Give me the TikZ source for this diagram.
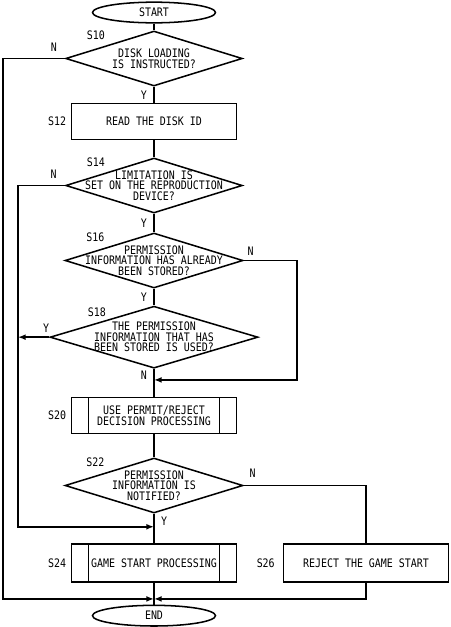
\documentclass[tikz,border=0pt]{standalone}
\usepackage{fontspec}
\newfontfamily\flowfont[FakeStretch=0.85]{DejaVu Sans Mono}
\usetikzlibrary{shapes,arrows.meta}
\usetikzlibrary{positioning}

\begin{document}
\begin{tikzpicture}[line width=1.3pt, >={Latex[length=6.5pt,width=5pt]}, node distance=2cm, on grid,
    font=\flowfont\fontsize{10}{9}\selectfont,
    terminal/.style={ellipse, draw, inner sep=0pt, minimum width=3.69cm, minimum height=0.62cm},
    process/.style={rectangle, draw, align=center, minimum width=4.95cm, minimum height=1.08cm},
    subproc/.style={process, path picture={
        \draw ([xshift=.51cm]path picture bounding box.north west) -- ([xshift=.51cm]path picture bounding box.south west)
              ([xshift=-.51cm]path picture bounding box.north east) -- ([xshift=-.51cm]path picture bounding box.south east);}},
    decision/.style={diamond, draw, inner sep=0pt, minimum width=5.3cm, minimum height=1.65cm},
    question/.style={align=center}]
    \useasboundingbox (0,0) rectangle (13.5,-18.81);

    \node[terminal] (start) at (4.62,-0.375) {START};
    \node[decision, label={[question]center:DISK LOADING\\IS INSTRUCTED?}, label={north west:S10}] (s10) [below=1.38cm of start] {};
    \node[process, label={left:S12}] (s12) [below=1.89cm of s10] {READ THE DISK ID};
    \node[decision, label={[question]center:LIMITATION IS\\SET ON THE REPRODUCTION\\DEVICE?}, label={north west:S14}] (s14) [below=1.92cm of s12] {};
    \node[decision, minimum width=5.34cm, label={[question]center:PERMISSION\\INFORMATION HAS ALREADY\\BEEN STORED?}, label={north west:S16}] (s16) [below=2.25cm of s14] {};
    \node[decision, minimum width=6.24cm, minimum height=1.86cm, label={[question]center:THE PERMISSION\\INFORMATION THAT HAS\\BEEN STORED IS USED?}, label={[xshift=0.27cm]north west:S18}] (s18) [below=2.3cm of s16] {};
    \node[subproc, label={left:S20}] (s20) [below=2.35cm of s18] {USE PERMIT/REJECT\\DECISION PROCESSING};
    \node[decision, minimum width=5.34cm, label={[question]center:PERMISSION\\INFORMATION IS\\NOTIFIED?}, label={north west:S22}] (s22) [below=2.1cm of s20] {};
    \node[subproc, minimum height=1.14cm, label={left:S24}] (s24) [below=2.33cm of s22] {GAME START PROCESSING};
    \node[process, minimum height=1.14cm, label={[label distance=1mm]left:S26}] (s26) [right=6.36cm of s24] {REJECT THE GAME START};
    \node[terminal] (end) [below=1.575cm of s24] {END};

    % rails and merge points
    \coordinate (railA) at (0.09,0);
    \coordinate (railB) at (0.54,0);
    \coordinate (railC) at (8.91,0);
    \coordinate (mergeN) at ([yshift=-0.33cm]s18.south);
    \coordinate (mergeY) at ([yshift=-0.39cm]s22.south);
    \coordinate (join) at ([yshift=-0.48cm]s24.south);

    % main flow
    \draw (start) -- (s10);
    \draw (s10) -- node[left=2pt] {Y} (s12);
    \draw (s12) -- (s14);
    \draw (s14) -- node[left=2pt] {Y} (s16);
    \draw (s16) -- node[left=2pt] {Y} (s18);
    \draw (s18) -- node[pos=0.23, left=2pt] {N} (s20);
    \draw (s20) -- (s22);
    \draw (s22) -- node[pos=0.25, right=2pt] {Y} (s24);
    \draw (s24) -- (end);

    % branches
    \draw[->] (s10.west) -- node[pos=0.18, above=2pt] {N} (s10.west -| railA) |- (join);
    \draw[->] (s14.west) -- node[pos=0.24, above=2pt] {N} (s14.west -| railB) |- (mergeY);
    \draw[->] (s18.west) -- node[pos=0.1, above] {Y} (s18.west -| railB);
    \draw[->] (s16.east) -- node[pos=0.13, above] {N} (s16.east -| railC) |- (mergeN);
    \draw (s22.east) -| node[pos=0.036, above=3pt] {N} (s26.north);
    \draw[->] (s26.south) |- (join);
\end{tikzpicture}
\end{document}
